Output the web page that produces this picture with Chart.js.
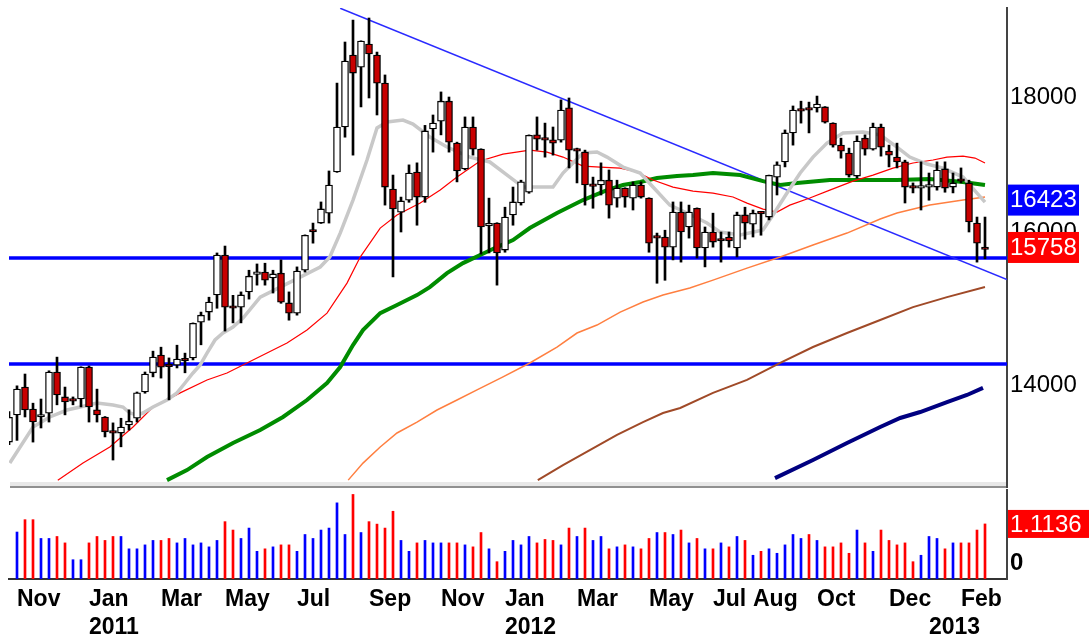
<!DOCTYPE html>
<html>
<head>
<meta charset="utf-8">
<title>Weekly price chart</title>
<script src="https://cdn.jsdelivr.net/npm/chart.js@4.4.1/dist/chart.umd.min.js"></script>
<style>
  html, body { margin: 0; padding: 0; background: #fff; }
  #wrap { position: relative; width: 1089px; height: 640px; overflow: hidden; }
  #priceChart { position: absolute; left: 0; top: 0; }
  #volChart { position: absolute; left: 0; top: 488px; }
</style>
</head>
<body>
<div id="wrap">
  <canvas id="priceChart" width="1089" height="488"></canvas>
  <canvas id="volChart" width="1089" height="152"></canvas>
</div>
<script>
// weekly candles, week 0 = first week of Nov 2010; first entry is week -1 (cut at left edge)
var firstWeek = -1;
var opens = [
  13320,13640,13975,13710,13615,13660,14160,13855,13830,13830,
  14220,13700,13615,13437,13425,13520,13600,13915,14150,14370,
  14235,14245,14320,14335,14790,14920,15145,15680,14985,14985,
  15185,15420,15450,15370,15435,15040,14905,15475,16010,16125,
  16265,16860,17535,18670,18475,18850,18670,18220,16610,16280,
  16450,16860,16495,17505,17625,17935,17290,16905,17535,17200,
  16085,16125,15750,16240,16410,16565,17415,17340,17340,17335,
  17830,17185,17155,16655,16670,16740,16480,16625,16480,16670,
  16480,15930,15930,15790,16280,16070,16335,15780,16000,15890,
  15930,15780,16240,16110,16265,16210,16785,17010,17445,17795,
  17800,17830,17845,17595,17260,17140,16800,17365,17200,17535,
  17170,17080,17010,16640,16625,16640,16640,16905,16640,16730,
  16700,16125,15790
];
var highs = [
  13680,13990,14135,13780,13830,14175,14345,13975,13855,14225,
  14235,13950,13620,13545,13600,13700,13915,14160,14420,14470,
  14335,14495,14395,14780,14920,15115,15710,15805,15140,15185,
  15475,15560,15570,15475,15615,15185,15520,15960,16125,16425,
  16875,18220,18885,19250,18905,19285,18720,18350,16815,16495,
  16965,16995,17560,17720,18080,18000,17305,17690,17690,17205,
  16480,16130,16350,16640,16740,17415,17690,17595,17535,17955,
  17985,17215,17185,16785,16995,16890,16740,16630,16715,16715,
  16485,15985,16025,16425,16425,16380,16340,16070,16265,16000,
  16000,16280,16350,16310,16280,16815,17010,17490,17860,17935,
  17920,18015,17850,17600,17365,17215,17400,17415,17595,17580,
  17260,17290,17035,16700,17010,16845,17010,17010,16845,16920,
  16740,16210,16210
];
var lows = [
  13290,13340,13615,13320,13485,13555,13760,13640,13760,13735,
  13555,13555,13380,13113,13265,13460,13555,13900,14100,14085,
  13820,14210,14150,14310,14500,14815,14970,14675,14780,14780,
  15090,15275,15275,15170,15035,14815,14880,15450,15845,16120,
  16125,16855,17380,17110,17845,17985,17720,16380,15385,16000,
  16420,16095,16420,17155,17415,17155,16715,16890,17110,15695,
  15710,15275,15720,16095,16380,16550,17185,17080,17110,17305,
  16920,16700,16380,16335,16525,16195,16350,16350,16310,16480,
  15720,15300,15340,15615,15585,15915,15640,15520,15790,15585,
  15790,15655,15900,15930,15955,16170,16525,16935,17260,17595,
  17445,17765,17595,17230,17065,16785,16770,17110,17185,17095,
  16935,16920,16410,16555,16310,16450,16595,16565,16555,16700,
  16000,15585,15630
];
var closes = [
  13610,13950,13700,13555,13640,14160,13880,13795,13805,14220,
  13735,13640,13440,13425,13495,13565,13905,14135,14345,14220,
  14225,14320,14300,14775,14880,15050,15680,14985,14970,15145,
  15395,15450,15340,15425,15050,14905,15465,15955,16000,16325,
  16670,17535,18575,18380,18900,18690,18220,16640,16325,16440,
  16845,16495,17475,17595,17935,17305,16875,17535,17200,16070,
  16110,15710,16210,16425,16715,17410,17350,17335,17290,17795,
  17185,17170,16670,16650,16740,16380,16625,16495,16670,16495,
  15845,15915,15790,16280,16000,16280,15780,16000,15860,15875,
  15875,16240,16125,16265,16255,16810,16965,17445,17795,17780,
  17795,17890,17610,17260,17170,16815,17320,17200,17535,17230,
  17110,17010,16640,16625,16630,16645,16890,16625,16700,16725,
  16140,15845,15758
];

// volume pane, weeks 0..121 (u = up week, d = down week)
var volumes = [
  0.95,1.20,1.20,0.82,0.82,0.86,0.73,0.39,0.39,0.73,
  0.86,0.78,0.86,0.86,0.61,0.61,0.69,0.78,0.78,0.82,
  0.73,0.82,0.69,0.73,0.65,0.78,1.16,0.99,0.82,1.03,
  0.56,0.61,0.65,0.69,0.69,0.56,0.90,0.82,0.99,1.03,
  1.54,0.90,1.71,0.94,1.16,1.11,1.03,1.37,0.78,0.56,
  0.73,0.78,0.73,0.73,0.73,0.73,0.69,0.65,0.94,0.61,
  0.35,0.56,0.78,0.69,0.86,0.73,0.80,0.78,0.69,1.03,
  0.86,1.03,0.78,0.86,0.61,0.65,0.69,0.65,0.61,0.82,
  0.94,0.94,0.90,0.99,0.73,0.82,0.61,0.61,0.73,0.65,
  0.86,0.78,0.48,0.56,0.61,0.52,0.69,0.90,0.82,0.90,
  0.78,0.65,0.65,0.73,0.52,0.99,0.73,0.56,0.99,0.78,
  0.69,0.73,0.35,0.48,0.86,0.82,0.61,0.73,0.73,0.73,
  0.99,1.1136
];
var volumeDir = [
  'udduudduud','ddduuuuudd','uuuuuudduu','ududduuuuu','uududddduu',
  'duuudduddu','duuuudddud','uduudududd','ududududud','ududuuuuud',
  'uddddududd','ddduuududd','dd'
].join('');

// moving averages: [week, value]
var maGray = [[-0.9,13078],[2,13496],[4.1,13615],[6.25,13698],[7.9,13734],[10,13782],[12,13758],[13.25,13734],
  [14.1,13662],[15,13639],[15.75,13662],[17,13734],[18.75,13818],[20,13904],[21,14025],[22,14148],[22.9,14247],
  [23.75,14396],[24.75,14561],[25.75,14650],[27,14727],[28.25,14843],[30.4,15116],[32.9,15249],[35.4,15382],
  [37.9,15518],[39.1,15654],[40.4,15985],[42,16452],[43.75,17037],[45,17520],[46.25,17611],[48.25,17642],
  [49.5,17581],[51.6,17383],[53.75,17231],[56.6,17081],[59.1,17008],[61.6,16786],[63.25,16640],[67,16640],
  [68.25,16845],[69.5,16993],[70.75,17141],[72.5,17156],[73.75,17081],[75.75,16933],[77.9,16845],[79.5,16640],
  [81.6,16380],[83.75,16267],[86.25,16126],[87.9,15999],[90.4,15957],[93.25,16027],[94.5,16239],[96.25,16553],
  [97.9,16845],[99.5,17081],[101.25,17292],[103.25,17443],[105.75,17459],[107.9,17413],[110,17231],[111.6,17081],
  [113.75,16978],[115.75,16918],[118.25,16786],[120,16553],[121,16423]];
var maRed = [[5.1,12885],[8.25,13078],[11.6,13263],[14.5,13496],[17,13734],[20.4,13904],[23.75,14062],[26.25,14148],
  [28.75,14272],[31.25,14396],[33.75,14523],[36.25,14688],[38.75,14907],[41.25,15302],[42.9,15654],[45.4,16055],
  [47.5,16239],[50.4,16409],[52.9,16596],[55,16786],[57.9,17022],[60.75,17126],[64.1,17186],[66.25,17156],
  [68.25,17081],[70.75,16948],[72.9,16933],[75.4,16918],[77.5,16860],[79.5,16742],[82,16640],[84.5,16582],
  [87,16553],[89.5,16496],[91.25,16409],[93.25,16323],[95,16281],[96.6,16380],[99.1,16481],[101.6,16596],
  [104.5,16727],[107,16815],[109.5,16918],[112,16993],[114.5,17037],[116.25,17081],[118.25,17096],[119.75,17066],
  [121,16993]];
var maGreen = [[18.75,12885],[21.25,12998],[23.75,13147],[27,13309],[30.4,13461],[33.25,13615],[36.25,13818],
  [38.75,14025],[40.4,14222],[42,14497],[43.25,14688],[45.4,14907],[47.5,15012],[50,15143],[51.6,15249],
  [53.75,15436],[55.75,15572],[57.9,15682],[60,15791],[62,15888],[64.1,16055],[67.5,16267],[70.75,16452],
  [73.75,16596],[75.75,16669],[77.9,16713],[80,16771],[82.5,16801],[84.5,16815],[87,16845],[90.4,16815],
  [93.25,16727],[95.4,16669],[97.5,16698],[101.6,16742],[105.75,16742],[110,16742],[114.1,16757],[118.25,16713],
  [121,16669]];
var maOrange = [[41.4,12885],[43.25,13078],[45.4,13263],[47.5,13426],[50,13555],[52.5,13698],[55,13818],[57.5,13940],
  [60.75,14099],[64.1,14272],[67.5,14472],[70,14650],[72.5,14752],[75.4,14920],[78.25,15051],[80.75,15143],
  [84.1,15236],[87,15342],[91.25,15504],[95.4,15654],[99.5,15819],[103.75,15985],[107.9,16182],[110,16267],
  [114.1,16380],[118.25,16452],[121,16496]];
var maBrown = [[65.1,12885],[68.25,13055],[71.6,13228],[75,13403],[78.25,13555],[80.75,13662],[82.9,13722],[87,13904],
  [91.25,14062],[95.4,14272],[99.5,14472],[103.75,14650],[107.9,14817],[112,14985],[116.25,15116],[121,15249]];
var maNavy = [[94.75,12908],[99.5,13113],[103.75,13309],[107.9,13496],[110.4,13603],[112.9,13674],[116.25,13794],
  [118.75,13879],[120.75,13965]];

var supportLevels = [15640, 14260];
var trendLine = [[40.4, 19450], [123.75, 15350]];
var priceTicks = [14000, 16000, 18000];
var priceMarkers = [16423, 15758];
var volumeMarker = 1.1136;

var tickWeeks  = [0, 9, 18, 26, 35, 44, 53, 61, 70, 79, 87, 92, 100, 109, 114, 118];
var tickMonths = ['Nov','Jan','Mar','May','Jul','Sep','Nov','Jan','Mar','May','Jul','Aug','Oct','Dec','','Feb'];
var tickYears  = ['','2011','','','','','','2012','','','','','','','2013',''];

var FONT = '"Liberation Sans", Arial, sans-serif';
var weekMin = -1, weekMax = 123.75;

var weeks = opens.map(function(_, i) { return firstWeek + i; });

function maLine(points, color, width, order) {
  return {
    type: 'line',
    data: points.map(function(p) { return { x: p[0], y: p[1] }; }),
    borderColor: color,
    borderWidth: width,
    pointRadius: 0,
    tension: 0,
    fill: false,
    order: order
  };
}

// boxes on the price axis + separator under the price pane
var priceExtras = {
  id: 'priceExtras',
  afterDraw: function(chart) {
    var ctx = chart.ctx, area = chart.chartArea, y = chart.scales.y;
    ctx.save();
    ctx.fillStyle = '#e8e8e8';
    ctx.fillRect(area.left + 1, area.bottom, area.right - area.left - 2, 6);
    ctx.fillStyle = '#909090';
    ctx.fillRect(area.left + 1, area.bottom + 4, area.right - area.left - 2, 2);
    ctx.fillStyle = '#444';
    ctx.fillRect(area.right - 1, area.bottom, 2, 6);

    var colors = ['#0000ff', '#ff0000'];
    ctx.font = '24px ' + FONT;
    ctx.textBaseline = 'middle';
    ctx.textAlign = 'left';
    priceMarkers.forEach(function(v, i) {
      var py = y.getPixelForValue(v) - 2.5;
      ctx.fillStyle = colors[i];
      ctx.fillRect(area.right + 1, py - 15, 71, 31);
      ctx.fillStyle = '#fff';
      ctx.fillText(String(v), area.right + 3, py + 1);
    });
    ctx.restore();
  }
};

var volumeExtras = {
  id: 'volumeExtras',
  afterDraw: function(chart) {
    var ctx = chart.ctx, area = chart.chartArea;
    var py = chart.scales.y.getPixelForValue(volumeMarker);
    ctx.save();
    ctx.fillStyle = '#ff0000';
    ctx.fillRect(area.right + 1, py - 14, 90, 28);
    ctx.fillStyle = '#fff';
    ctx.font = '24px ' + FONT;
    ctx.textBaseline = 'middle';
    ctx.fillText(volumeMarker.toFixed(4), area.right + 3, py + 1);
    ctx.restore();
  }
};

new Chart(document.getElementById('priceChart'), {
  type: 'bar',
  data: {
    datasets: [
      // candle bodies on top, then wicks
      {
        data: weeks.map(function(w, i) { return { x: w, y: [opens[i], closes[i]] }; }),
        backgroundColor: weeks.map(function(w, i) { return closes[i] >= opens[i] ? '#ffffff' : '#c80000'; }),
        borderColor: '#000',
        borderWidth: 1.3,
        borderSkipped: false,
        barThickness: 7,
        minBarLength: 2.5,
        grouped: false,
        clip: 0,
        order: 1
      },
      {
        data: weeks.map(function(w, i) { return { x: w, y: [lows[i], highs[i]] }; }),
        backgroundColor: '#000',
        barThickness: 2,
        grouped: false,
        clip: 0,
        order: 2
      },
      maLine(maGray, '#c8c8c8', 3.5, 3),
      maLine(maRed, '#ff0000', 1.2, 4),
      maLine(maGreen, '#008c00', 4, 5),
      maLine(maOrange, '#ff7f40', 1.5, 6),
      maLine(maBrown, '#a04a28', 2, 6),
      maLine(maNavy, '#000080', 4, 6),
      maLine(trendLine, '#2a2aff', 1.5, 7),
      maLine([[weekMin, supportLevels[0]], [weekMax, supportLevels[0]]], '#0000ff', 3.5, 8),
      maLine([[weekMin, supportLevels[1]], [weekMax, supportLevels[1]]], '#0000ff', 3.5, 8)
    ]
  },
  options: {
    responsive: false,
    animation: false,
    layout: { padding: { left: 9, top: 8, right: 0, bottom: 6 } },
    plugins: { legend: { display: false }, tooltip: { enabled: false } },
    scales: {
      x: { type: 'linear', min: weekMin, max: weekMax, offset: false, display: false },
      y: {
        type: 'logarithmic',
        position: 'right',
        min: 12864,
        max: 19454,
        grid: { display: false, drawTicks: false },
        border: { display: true, color: '#444', width: 2 },
        afterBuildTicks: function(s) { s.ticks = priceTicks.map(function(v) { return { value: v }; }); },
        afterFit: function(s) { s.width = 82; s.paddingTop = 0; s.paddingBottom = 0; },
        ticks: {
          padding: 3,
          color: '#000',
          font: { family: FONT, size: 24 },
          callback: function(v) { return String(v); }
        }
      }
    }
  },
  plugins: [priceExtras]
});

new Chart(document.getElementById('volChart'), {
  type: 'bar',
  data: {
    datasets: [{
      data: volumes.map(function(v, i) { return { x: i, y: v }; }),
      backgroundColor: volumes.map(function(v, i) { return volumeDir.charAt(i) === 'u' ? '#0000ff' : '#ff0000'; }),
      barThickness: 2,
      grouped: false
    }]
  },
  options: {
    responsive: false,
    animation: false,
    layout: { padding: { left: 9, top: 2, right: 0, bottom: 0 } },
    plugins: { legend: { display: false }, tooltip: { enabled: false } },
    scales: {
      x: {
        type: 'linear',
        min: weekMin,
        max: weekMax,
        offset: false,
        grid: { display: false, drawTicks: false },
        border: { display: true, color: '#333', width: 2 },
        afterBuildTicks: function(s) { s.ticks = tickWeeks.map(function(v) { return { value: v }; }); },
        afterFit: function(s) { s.height = 61; s.paddingLeft = 0; s.paddingRight = 0; },
        ticks: {
          autoSkip: false,
          maxRotation: 0,
          minRotation: 0,
          align: 'start',
          padding: 7,
          color: '#000',
          font: { family: FONT, size: 23, weight: 'bold', lineHeight: 1.2 },
          callback: function(v, i) {
            return tickYears[i] ? [tickMonths[i], tickYears[i]] : tickMonths[i];
          }
        }
      },
      y: {
        position: 'right',
        min: 0,
        max: 1.8,
        grid: { display: false, drawTicks: false },
        border: { display: true, color: '#444', width: 2 },
        afterBuildTicks: function(s) { s.ticks = [{ value: 0 }]; },
        afterFit: function(s) { s.width = 82; s.paddingTop = 0; s.paddingBottom = 0; },
        ticks: {
          padding: 3,
          labelOffset: -16,
          color: '#000',
          font: { family: FONT, size: 24, weight: 'bold' },
          callback: function(v) { return String(v); }
        }
      }
    }
  },
  plugins: [volumeExtras]
});
</script>
</body>
</html>
